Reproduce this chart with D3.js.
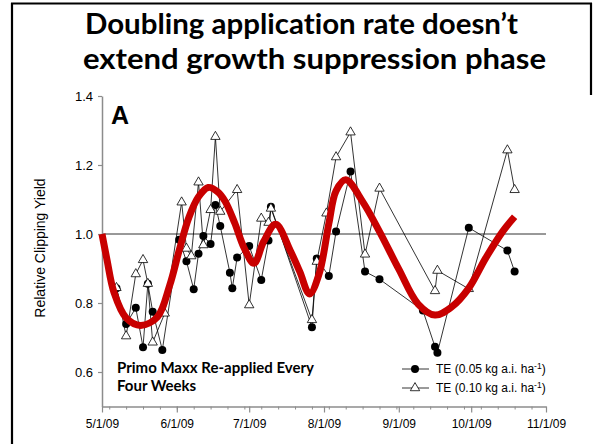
<!DOCTYPE html>
<html>
<head>
<meta charset="utf-8">
<script src="https://cdn.jsdelivr.net/npm/d3@7"></script>
<style>
  html, body { margin: 0; padding: 0; background: #fff; }
  svg { display: block; }
  text { font-variant-ligatures: none; font-feature-settings: "liga" 0, "clig" 0; }
</style>
</head>
<body>
<script>
// ---- data -------------------------------------------------------------
// TE at 0.05 kg a.i. ha-1 (filled circles)
const lowDates = [
  "2009-05-07","2009-05-11","2009-05-15","2009-05-18","2009-05-20","2009-05-22","2009-05-26",
  "2009-06-02","2009-06-05","2009-06-08","2009-06-10","2009-06-12","2009-06-15","2009-06-17",
  "2009-06-19","2009-06-23","2009-06-24","2009-06-26","2009-07-01","2009-07-06","2009-07-09",
  "2009-07-10","2009-07-27","2009-07-29","2009-08-03","2009-08-06","2009-08-12","2009-08-18",
  "2009-08-24","2009-09-11","2009-09-16","2009-09-17","2009-09-30","2009-10-16","2009-10-19"
];
const lowValues = [
  0.843, 0.739, 0.786, 0.672, 0.856, 0.775, 0.664,
  0.983, 0.921, 0.840, 0.943, 0.994, 0.971, 1.084,
  1.023, 0.888, 0.843, 0.932, 0.965, 0.867, 0.981,
  1.079, 0.730, 0.929, 0.878, 1.007, 1.181, 0.891,
  0.869, 0.778, 0.673, 0.656, 1.018, 0.952, 0.891
];

// TE at 0.10 kg a.i. ha-1 (open triangles)
const highDates = [
  "2009-05-07","2009-05-11","2009-05-15","2009-05-18","2009-05-20","2009-05-22","2009-05-27",
  "2009-06-03","2009-06-05","2009-06-07","2009-06-10","2009-06-12","2009-06-15","2009-06-17",
  "2009-06-19","2009-06-26","2009-07-01","2009-07-06","2009-07-09","2009-07-10","2009-07-27",
  "2009-07-29","2009-08-02","2009-08-06","2009-08-12","2009-08-18","2009-08-24","2009-09-16",
  "2009-09-17","2009-09-30","2009-10-16","2009-10-19"
];
const highValues = [
  0.844, 0.704, 0.884, 0.925, 0.856, 0.686, 0.770,
  1.092, 0.958, 0.936, 1.150, 0.968, 1.070, 1.282,
  1.065, 1.128, 0.794, 1.045, 1.033, 1.074, 0.751,
  0.920, 1.060, 1.223, 1.295, 0.941, 1.132, 0.835,
  0.894, 0.841, 1.243, 1.128
];

// smoothed growth-cycle trend
const trendDates = [
  "2009-05-01","2009-05-03","2009-05-06","2009-05-11","2009-05-17","2009-05-24","2009-05-29",
  "2009-06-02","2009-06-06","2009-06-10","2009-06-14","2009-06-18","2009-06-21","2009-06-25",
  "2009-06-29","2009-07-03","2009-07-07","2009-07-12","2009-07-18","2009-07-22","2009-07-26",
  "2009-07-30","2009-08-03","2009-08-06","2009-08-10","2009-08-17","2009-08-24","2009-09-01",
  "2009-09-09","2009-09-16","2009-09-23","2009-09-30","2009-10-07","2009-10-14","2009-10-19"
];
const trendValues = [
  1.000, 0.928, 0.830, 0.757, 0.735, 0.760, 0.850,
  0.953, 1.048, 1.108, 1.135, 1.122, 1.095, 1.032,
  0.958, 0.915, 0.978, 1.028, 0.952, 0.890, 0.826,
  0.885, 1.030, 1.125, 1.157, 1.094, 1.007, 0.898,
  0.797, 0.765, 0.789, 0.843, 0.930, 1.007, 1.050
];

const yTicks = [0.6, 0.8, 1.0, 1.2, 1.4];
const monthDates = ["2009-05-01","2009-06-01","2009-07-01","2009-08-01","2009-09-01","2009-10-01","2009-11-01"];
const monthLabels = ["5/1/09","6/1/09","7/1/09","8/1/09","9/1/09","10/1/09","11/1/09"];

const titleLines = ["Doubling application rate doesn\u2019t", "extend growth suppression phase"];
const noteLines = ["Primo Maxx Re-applied Every", "Four Weeks"];
const legendLabels = ["TE (0.05 kg a.i. ha", "TE (0.10 kg a.i. ha"];

// ---- setup ------------------------------------------------------------
const W = 599, H = 444;
const parse = d3.timeParse("%Y-%m-%d");
const AXIS_FONT = "Arial, 'Liberation Sans', sans-serif";
const TITLE_FONT = "Lato, 'Open Sans', sans-serif";
const AXIS_GREY = "#8c8c8c";

const svg = d3.select("body").append("svg")
  .attr("width", W).attr("height", H)
  .attr("viewBox", `0 0 ${W} ${H}`);

svg.append("rect").attr("width", W).attr("height", H).attr("fill", "#fff");

// slide frame
const frame = svg.append("g").attr("stroke", "#000").attr("stroke-width", 2.2).attr("fill", "none");
frame.append("line").attr("x1", 12).attr("x2", 12).attr("y1", 3).attr("y2", H);
frame.append("line").attr("x1", 11).attr("x2", 592).attr("y1", 3.5).attr("y2", 3.5);
frame.append("line").attr("x1", 591).attr("x2", 591).attr("y1", 3).attr("y2", 95);

// title: two lines, each fitted to its own width
const titleLayout = [{ x: 85, y: 34, w: 433 }, { x: 83, y: 69, w: 463 }];
svg.append("g").selectAll("text").data(titleLines).join("text")
  .attr("x", (d, i) => titleLayout[i].x)
  .attr("y", (d, i) => titleLayout[i].y)
  .attr("textLength", (d, i) => titleLayout[i].w)
  .attr("lengthAdjust", "spacingAndGlyphs")
  .attr("font-family", TITLE_FONT)
  .attr("font-weight", 700)
  .attr("font-size", 29)
  .attr("fill", "#000")
  .text(d => d);

const x = d3.scaleTime()
  .domain([parse("2009-05-01"), parse("2009-11-01")])
  .range([102, 546]);
const y = d3.scaleLinear()
  .domain([0.5, 1.4])
  .range([406.5, 96]);

// reference line at 1.0
svg.append("line")
  .attr("x1", x.range()[0]).attr("x2", x.range()[1])
  .attr("y1", y(1.0)).attr("y2", y(1.0))
  .attr("stroke", "#333").attr("stroke-width", 1);

// y axis
const gy = svg.append("g")
  .attr("transform", `translate(${x.range()[0]},0)`)
  .call(d3.axisLeft(y).tickValues(yTicks).tickSize(4).tickSizeOuter(0).tickPadding(5)
    .tickFormat(d3.format(".1f")));
gy.select(".domain").attr("stroke", AXIS_GREY).attr("stroke-width", 1.5);
gy.selectAll(".tick line").attr("stroke", AXIS_GREY).attr("stroke-width", 1.2);
gy.selectAll(".tick text").attr("font-family", AXIS_FONT).attr("font-size", 13).attr("fill", "#000");

// x axis: weekly minor ticks, monthly labelled ticks
const gxMinor = svg.append("g")
  .attr("transform", `translate(0,${y.range()[0]})`)
  .call(d3.axisBottom(x).tickValues(d3.timeMonday.range(x.domain()[0], x.domain()[1]))
    .tickSize(3).tickFormat(""));
gxMinor.select(".domain").remove();
gxMinor.selectAll(".tick line").attr("stroke", AXIS_GREY).attr("stroke-width", 1);

const gx = svg.append("g")
  .attr("transform", `translate(0,${y.range()[0]})`)
  .call(d3.axisBottom(x).tickValues(monthDates.map(parse)).tickSize(6).tickSizeOuter(0)
    .tickPadding(7).tickFormat((d, i) => monthLabels[i]));
gx.select(".domain").attr("stroke", AXIS_GREY).attr("stroke-width", 1.5);
gx.selectAll(".tick line").attr("stroke", AXIS_GREY).attr("stroke-width", 1.2);
gx.selectAll(".tick text").attr("font-family", AXIS_FONT).attr("font-size", 12).attr("fill", "#000");

// y axis title
svg.append("text")
  .attr("transform", "translate(41,248) rotate(-90)")
  .attr("text-anchor", "middle")
  .attr("dominant-baseline", "middle")
  .attr("font-family", AXIS_FONT)
  .attr("font-size", 14)
  .text("Relative Clipping Yield");

// panel letter
svg.append("text")
  .attr("x", 111).attr("y", 123.5)
  .attr("font-family", AXIS_FONT).attr("font-weight", 700).attr("font-size", 25)
  .text("A");

// series
const low = lowDates.map((d, i) => ({ date: parse(d), value: lowValues[i] }));
const high = highDates.map((d, i) => ({ date: parse(d), value: highValues[i] }));
const trend = trendDates.map((d, i) => ({ date: parse(d), value: trendValues[i] }));

const line = d3.line().x(d => x(d.date)).y(d => y(d.value));
const tri = d3.symbol().type(d3.symbolTriangle).size(38);

svg.append("path").datum(high).attr("d", line)
  .attr("fill", "none").attr("stroke", "#000").attr("stroke-width", 0.8);
svg.append("path").datum(low).attr("d", line)
  .attr("fill", "none").attr("stroke", "#000").attr("stroke-width", 0.8);

svg.append("g").selectAll("circle").data(low).join("circle")
  .attr("cx", d => x(d.date)).attr("cy", d => y(d.value)).attr("r", 4)
  .attr("fill", "#000");

svg.append("g").selectAll("path").data(high).join("path")
  .attr("transform", d => `translate(${x(d.date)},${y(d.value)})`)
  .attr("d", tri)
  .attr("fill", "#fff").attr("stroke", "#000").attr("stroke-width", 0.8);

// trend curve on top
svg.append("path").datum(trend)
  .attr("d", d3.line().x(d => x(d.date)).y(d => y(d.value)).curve(d3.curveCatmullRom.alpha(0.5)))
  .attr("fill", "none").attr("stroke", "#c80000").attr("stroke-width", 7)
  .attr("stroke-linejoin", "round");

// note
svg.append("g").selectAll("text").data(noteLines).join("text")
  .attr("x", 117)
  .attr("y", (d, i) => 372.5 + i * 18.5)
  .attr("font-family", TITLE_FONT).attr("font-weight", 700).attr("font-size", 15)
  .text(d => d);

// legend
const legend = svg.append("g");
const rows = [{ y: 369, kind: "circle" }, { y: 388, kind: "tri" }];
rows.forEach((r, i) => {
  const g = legend.append("g").attr("transform", `translate(0,${r.y})`);
  g.append("line").attr("x1", 402).attr("x2", 429).attr("y1", 0).attr("y2", 0)
    .attr("stroke", "#000").attr("stroke-width", 0.8);
  if (r.kind === "circle") {
    g.append("circle").attr("cx", 415).attr("cy", 0).attr("r", 4).attr("fill", "#000");
  } else {
    g.append("path").attr("transform", "translate(415,0)").attr("d", tri)
      .attr("fill", "#fff").attr("stroke", "#000").attr("stroke-width", 0.8);
  }
  const t = g.append("text").attr("x", 436).attr("y", 4.3)
    .attr("font-family", AXIS_FONT).attr("font-size", 12);
  t.append("tspan").text(legendLabels[i]);
  t.append("tspan").attr("dy", -4.5).attr("font-size", 8.5).text("-1");
  t.append("tspan").attr("dy", 4.5).text(")");
});
</script>
</body>
</html>
